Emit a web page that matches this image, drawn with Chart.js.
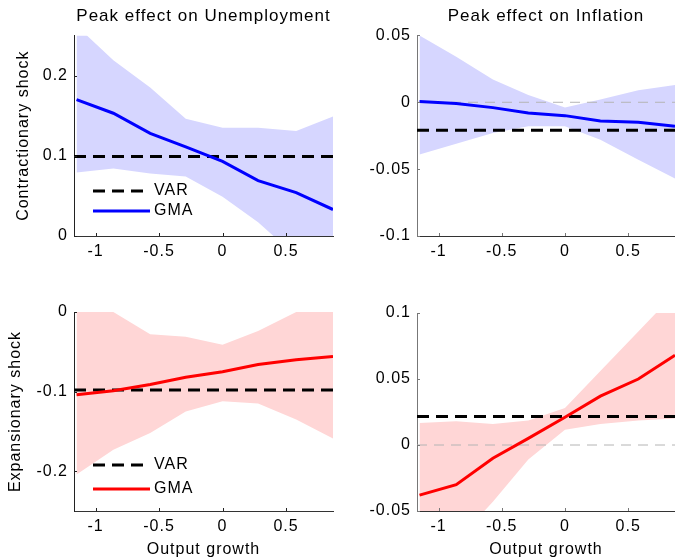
<!DOCTYPE html>
<html>
<head>
<meta charset="utf-8">
<script src="https://cdn.jsdelivr.net/npm/chart.js@4.4.1/dist/chart.umd.min.js"></script>
<style>
body{margin:0;background:#fff;}
#wrap{position:relative;width:675px;height:559px;overflow:hidden;}
canvas{position:absolute;}
</style>
</head>
<body>
<div id="wrap">
<canvas id="c1" width="337" height="280" style="left:0;top:0"></canvas>
<canvas id="c2" width="338" height="280" style="left:337px;top:0"></canvas>
<canvas id="c3" width="337" height="279" style="left:0;top:280px"></canvas>
<canvas id="c4" width="338" height="279" style="left:337px;top:280px"></canvas>
</div>
<script>

// DATA

const growth = [-1.15, -0.86, -0.57, -0.29, 0, 0.28, 0.58, 0.87];
const xTicks = [-1, -0.5, 0, 0.5];

// contractionary shock, unemployment
const unCtrGma = [0.170, 0.153, 0.128, 0.111, 0.093, 0.069, 0.054, 0.033];
const unCtrHi = [0.262, 0.219, 0.185, 0.146, 0.135, 0.135, 0.131, 0.149];
const unCtrLo = [0.079, 0.084, 0.078, 0.074, 0.049, 0.017, -0.025, -0.06];
const unCtrVar = 0.099;
const unCtrTicks = [0, 0.1, 0.2];

// contractionary shock, inflation
const infCtrGma = [0.0005, -0.001, -0.004, -0.008, -0.010, -0.014, -0.015, -0.018];
const infCtrHi = [0.050, 0.034, 0.017, 0.0055, -0.004, 0.002, 0.009, 0.013];
const infCtrLo = [-0.039, -0.031, -0.023, -0.018, -0.018, -0.028, -0.043, -0.057];
const infCtrVar = -0.021;
const infCtrTicks = [-0.1, -0.05, 0, 0.05];

// expansionary shock, unemployment
const unExpGma = [-0.104, -0.099, -0.091, -0.082, -0.075, -0.066, -0.060, -0.056];
const unExpHi = [0.02, 0.0, -0.028, -0.031, -0.041, -0.024, 0.0, 0.02];
const unExpLo = [-0.204, -0.173, -0.152, -0.125, -0.112, -0.115, -0.135, -0.159];
const unExpVar = -0.098;
const unExpTicks = [-0.2, -0.1, 0];

// expansionary shock, inflation
const infExpGma = [-0.038, -0.030, -0.010, 0.005, 0.021, 0.037, 0.050, 0.068];
const infExpHi = [0.0166, 0.018, 0.016, 0.0186, 0.028, 0.056, 0.086, 0.115];
const infExpLo = [-0.10, -0.073, -0.043, -0.011, 0.0116, 0.016, 0.0186, 0.020];
const infExpVar = 0.0216;
const infExpTicks = [-0.05, 0, 0.05, 0.1];

const FONT = '"Liberation Sans", Arial, sans-serif';

function pts(ys){
return growth.map((g, i) => ({x: g, y: ys[i]}));
}

function flat(v){
return [{x: -1.17, y: v}, {x: 0.87, y: v}];
}

// PLUGINS

const spacing = {
id: 'spacing',
beforeDraw(chart){
chart.ctx.letterSpacing = '1px';
}
};

// small inward ticks like matlab
const innerTicks = {
id: 'innerTicks',
afterDraw(chart){
let ctx = chart.ctx, a = chart.chartArea;
ctx.save();
ctx.strokeStyle = chart.options.scales.y.border.color;
ctx.lineWidth = 1;
ctx.beginPath();
chart.scales.x.ticks.forEach(t => {
let px = Math.round(chart.scales.x.getPixelForValue(t.value)) + 0.5;
ctx.moveTo(px, a.bottom); ctx.lineTo(px, a.bottom - 3);
});
chart.scales.y.ticks.forEach(t => {
let py = Math.round(chart.scales.y.getPixelForValue(t.value)) + 0.5;
ctx.moveTo(a.left, py); ctx.lineTo(a.left + 3, py);
});
ctx.stroke();
ctx.restore();
}
};

const insideLegend = {
id: 'insideLegend',
afterDraw(chart, args, opts){
if(!opts.items) return;
let ctx = chart.ctx, a = chart.chartArea;
ctx.save();
ctx.font = '16px ' + FONT;
ctx.letterSpacing = '1px';
ctx.textBaseline = 'middle';
ctx.fillStyle = '#000';
opts.items.forEach((idx, k) => {
let ds = chart.data.datasets[idx];
let y = a.bottom - opts.offsets[k];
ctx.strokeStyle = ds.borderColor;
ctx.lineWidth = ds.borderWidth;
ctx.setLineDash(ds.borderDash || []);
ctx.beginPath();
ctx.moveTo(a.left + 19, y);
ctx.lineTo(a.left + 76, y);
ctx.stroke();
ctx.setLineDash([]);
ctx.fillText(ds.label, a.left + 80, y);
});
ctx.restore();
}
};

// PANEL

function panel(id, p){

let datasets = [
{label: 'GMA', data: pts(p.gma), borderColor: p.color, borderWidth: 3, order: 0},
{label: 'VAR', data: flat(p.varv), borderColor: '#000', borderWidth: 3, borderDash: [12, 7], order: 1},
{label: 'hi', data: pts(p.hi), borderWidth: 0, borderColor: 'transparent', backgroundColor: p.band, fill: '+1', order: 4},
{label: 'lo', data: pts(p.lo), borderWidth: 0, borderColor: 'transparent', order: 5}
];

if(p.zero){
datasets.push({label: 'zero', data: flat(0), borderColor: '#b4b4b4', borderWidth: 1, borderDash: [10, 7], order: 2});
}

new Chart(
document.getElementById(id),
{
type: 'line',
data: {datasets: datasets},
plugins: [spacing, innerTicks, insideLegend],
options: {
responsive: false,
animation: false,
devicePixelRatio: 1,
elements: {point: {radius: 0}, line: {tension: 0}},
layout: {padding: {top: p.padTop, right: p.padRight, bottom: 0, left: 0}},
plugins: {
legend: {display: false},
tooltip: {enabled: false},
title: {
display: !!p.title,
text: p.title,
fullSize: false,
color: '#000',
font: {family: FONT, size: 17, weight: 'normal'},
padding: {top: 6, bottom: 9}
},
insideLegend: p.legend || {}
},
scales: {
x: {
type: 'linear',
min: -1.17,
max: 0.87,
afterBuildTicks: s => { s.ticks = xTicks.map(v => ({value: v})); },
afterFit: s => { s.height = p.xHeight; },
grid: {display: false, drawTicks: false},
border: {color: '#333', width: 1},
ticks: {color: '#000', padding: 6, font: {family: FONT, size: 16}, callback: v => String(v)},
title: {
display: !!p.xTitle,
text: p.xTitle,
color: '#000',
font: {family: FONT, size: 16},
padding: {top: 0, bottom: 0}
}
},
y: {
min: p.min,
max: p.max,
afterBuildTicks: s => { s.ticks = p.ticks.map(v => ({value: v})); },
afterFit: s => { s.width = p.yWidth; },
grid: {display: false, drawTicks: false},
border: {color: p.axisColor, width: 1},
ticks: {color: '#000', padding: 6, font: {family: FONT, size: 16}, callback: v => String(v)},
title: {
display: !!p.yTitle,
text: p.yTitle,
color: '#000',
font: {family: FONT, size: 16},
padding: {top: p.yTitlePad, bottom: 0}
}
}
}
}
}
);

}

panel('c1', {
title: 'Peak effect on Unemployment', yTitle: 'Contractionary shock',
gma: unCtrGma, hi: unCtrHi, lo: unCtrLo, varv: unCtrVar, ticks: unCtrTicks,
min: 0, max: 0.25, color: '#0000ff', band: '#d6d6ff',
padTop: 0, padRight: 4, xHeight: 44, yWidth: 74, yTitlePad: 14, axisColor: '#222',
legend: {items: [1, 0], offsets: [45, 25]}
});

panel('c2', {
title: 'Peak effect on Inflation',
gma: infCtrGma, hi: infCtrHi, lo: infCtrLo, varv: infCtrVar, ticks: infCtrTicks,
min: -0.1, max: 0.05, color: '#0000ff', band: '#d6d6ff', zero: true,
padTop: 0, padRight: 0, xHeight: 44, yWidth: 80, yTitlePad: 0, axisColor: '#777'
});

panel('c3', {
yTitle: 'Expansionary shock', xTitle: 'Output growth',
gma: unExpGma, hi: unExpHi, lo: unExpLo, varv: unExpVar, ticks: unExpTicks,
min: -0.25, max: 0, color: '#ff0000', band: '#ffd6d6',
padTop: 32, padRight: 4, xHeight: 48, yWidth: 74, yTitlePad: 6, axisColor: '#222',
legend: {items: [1, 0], offsets: [46, 22]}
});

panel('c4', {
xTitle: 'Output growth',
gma: infExpGma, hi: infExpHi, lo: infExpLo, varv: infExpVar, ticks: infExpTicks,
min: -0.05, max: 0.1, color: '#ff0000', band: '#ffd6d6', zero: true,
padTop: 33, padRight: 0, xHeight: 48, yWidth: 80, yTitlePad: 0, axisColor: '#777'
});

</script>
</body>
</html>
